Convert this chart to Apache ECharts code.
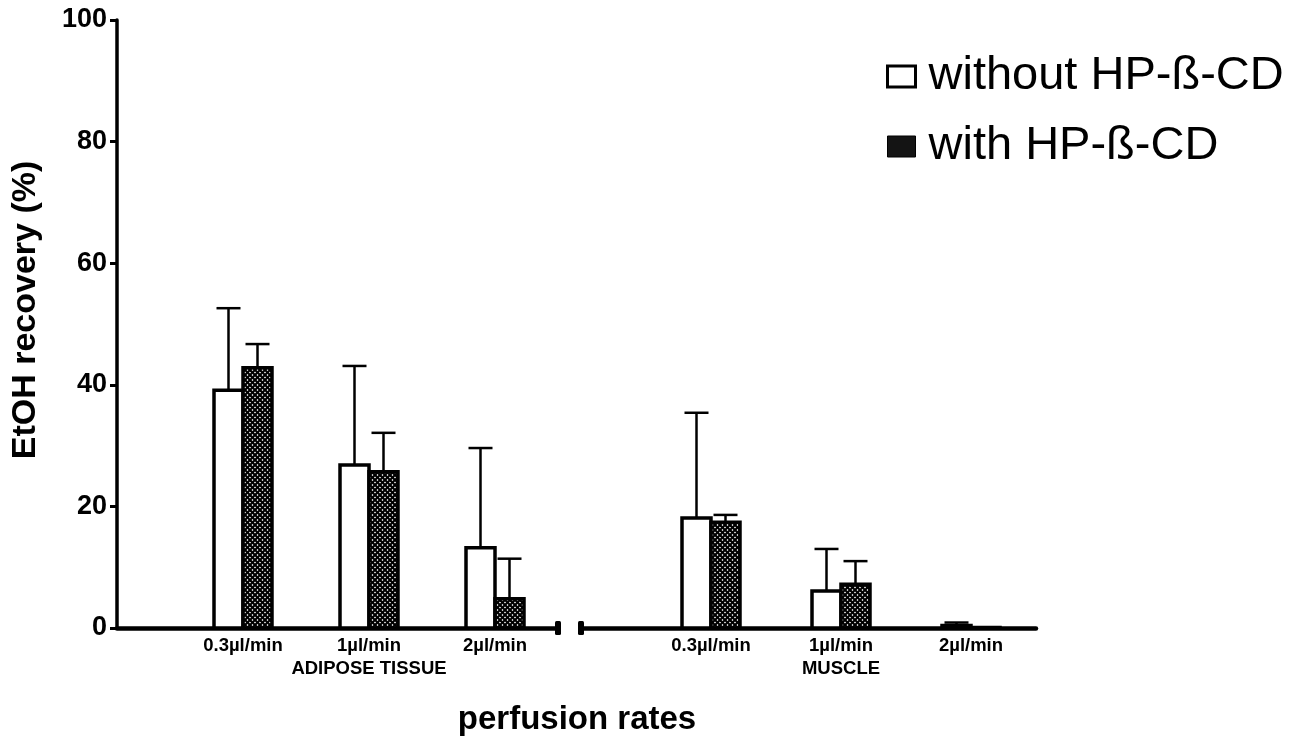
<!DOCTYPE html>
<html>
<head>
<meta charset="utf-8">
<script src="https://cdn.jsdelivr.net/npm/echarts@6/dist/echarts.min.js"></script>
<style>html,body{margin:0;padding:0;background:#fff}#c{width:1309px;height:741px}</style>
</head>
<body>
<div id="c"></div>
<script>
// ---- data ----
const rateLabels = ['0.3µl/min', '1µl/min', '2µl/min'];
const groupLabels = ['ADIPOSE TISSUE', 'MUSCLE'];
const seriesNames = ['without HP-ß-CD', 'with HP-ß-CD'];
const adiposeWithout = [39.1, 26.8, 13.2];
const adiposeWithoutSD = [13.5, 16.3, 16.4];
const adiposeWith = [42.8, 25.7, 4.8];
const adiposeWithSD = [3.9, 6.4, 6.6];
const muscleWithout = [18.1, 6.1, 0.4];
const muscleWithoutSD = [17.3, 6.9, 0.5];
const muscleWith = [17.4, 7.2, 0.1];
const muscleWithSD = [1.2, 3.8, 0];
const yTicks = [0, 20, 40, 60, 80, 100];
const yTitle = 'EtOH recovery (%)';
const xTitle = 'perfusion rates';

const FONT = '"Liberation Sans", Arial, sans-serif';

// cross-hatch pattern
function makeHatch() {
  const s = 10, c = document.createElement('canvas');
  c.width = s; c.height = s;
  const g = c.getContext('2d');
  g.fillStyle = '#fff'; g.fillRect(0, 0, s, s);
  g.strokeStyle = '#000'; g.lineWidth = 2.1;
  for (let k = -3; k <= 3; k++) {
    const o = k * 5;
    g.beginPath(); g.moveTo(-2, -2 + o); g.lineTo(s + 2, s + 2 + o); g.stroke();
    g.beginPath(); g.moveTo(-2, s + 2 + o); g.lineTo(s + 2, -2 + o); g.stroke();
  }
  return c;
}
const hatch = { image: makeHatch(), repeat: 'repeat' };

function toData(vals, sds) { return vals.map((v, i) => [i + 1, v, sds[i]]); }

function renderer(kind) {
  const fill = kind === 0 ? '#fff' : hatch;
  return function (params, api) {
    const x = api.value(0), v = api.value(1), sd = api.value(2);
    const base = api.coord([x, 0]);
    const top = api.coord([x, v]);
    const eTop = api.coord([x, v + sd]);
    const w = 29;
    const left = kind === 0 ? base[0] - w : base[0];
    const cx = left + w / 2;
    const children = [];
    if (sd > 0) {
      children.push({ type: 'line', shape: { x1: cx, y1: top[1], x2: cx, y2: eTop[1] }, style: { stroke: '#000', lineWidth: 2.5 } });
      children.push({ type: 'line', shape: { x1: cx - 12, y1: eTop[1], x2: cx + 12, y2: eTop[1] }, style: { stroke: '#000', lineWidth: 2.5 } });
    }
    children.push({ type: 'rect', shape: { x: left, y: top[1], width: w, height: base[1] - top[1] }, style: { fill: fill, stroke: '#000', lineWidth: 3.5 } });
    return { type: 'group', children: children };
  };
}

function xAxisFor(gridIndex, groupName, capSide) {
  return {
    type: 'value', gridIndex: gridIndex, min: 0, max: 3.5, interval: 1,
    splitLine: { show: false }, axisTick: { show: false },
    axisLine: { show: true, onZero: false, lineStyle: { color: '#000', width: 4.5, cap: 'round' },
      symbol: capSide === 'end' ? ['none', 'roundRect'] : ['roundRect', 'none'], symbolSize: [14, 6] },
    axisLabel: {
      margin: 8, fontFamily: FONT, color: '#000',
      formatter: function (v) {
        if (v === 1 || v === 3) return '{t|' + rateLabels[v - 1] + '}';
        if (v === 2) return '{t|' + rateLabels[1] + '}\n{g|' + groupName + '}';
        return '';
      },
      rich: {
        t: { fontSize: 18.5, fontWeight: 'bold', fontFamily: FONT, lineHeight: 19, color: '#000' },
        g: { fontSize: 18.5, fontWeight: 'bold', fontFamily: FONT, lineHeight: 28, color: '#000' }
      }
    }
  };
}

const chart = echarts.init(document.getElementById('c'), null, { renderer: 'canvas' });
chart.setOption({
  animation: false,
  backgroundColor: '#fff',
  grid: [
    { left: 117, right: 751, top: 20, bottom: 113, outerBoundsMode: 'none', containLabel: false },
    { left: 581, right: 273, top: 20, bottom: 113, outerBoundsMode: 'none', containLabel: false }
  ],
  xAxis: [xAxisFor(0, groupLabels[0], 'end'), xAxisFor(1, groupLabels[1], 'start')],
  yAxis: [
    {
      type: 'value', gridIndex: 0, min: 0, max: 100, interval: 20,
      splitLine: { show: false },
      axisLine: { show: true, lineStyle: { color: '#000', width: 3.5 } },
      axisTick: { show: true, length: 7, lineStyle: { color: '#000', width: 3 } },
      axisLabel: { margin: 10, fontSize: 27, fontWeight: 'bold', fontFamily: FONT, color: '#000',
        formatter: v => (yTicks.indexOf(v) >= 0 ? String(v) : '') }
    },
    { type: 'value', gridIndex: 1, min: 0, max: 100, interval: 20, show: false }
  ],
  legend: {
    orient: 'vertical', left: 881, top: 48, itemWidth: 28, itemHeight: 21, itemGap: 23,
    selectedMode: false,
    textStyle: { fontSize: 47, fontFamily: FONT, color: '#000', padding: [0, 0, 0, 8] },
    data: [
      { name: seriesNames[0], icon: 'rect', itemStyle: { color: '#fff', borderColor: '#000', borderWidth: 3 } },
      { name: seriesNames[1], icon: 'rect', itemStyle: { color: '#141414', borderColor: '#000', borderWidth: 1 } }
    ]
  },
  graphic: [
    { type: 'text', x: 577, y: 720, style: { text: xTitle, fontSize: 33, fontWeight: 'bold', fontFamily: FONT, fill: '#000', align: 'center', verticalAlign: 'middle' } },
    { type: 'text', x: 26, y: 310, rotation: Math.PI / 2, style: { text: yTitle, fontSize: 34, fontWeight: 'bold', fontFamily: FONT, fill: '#000', align: 'center', verticalAlign: 'middle' } }
  ],
  series: [
    { type: 'custom', name: seriesNames[0], xAxisIndex: 0, yAxisIndex: 0, encode: { x: 0, y: 1 }, renderItem: renderer(0), data: toData(adiposeWithout, adiposeWithoutSD), itemStyle: { color: '#fff' } },
    { type: 'custom', name: seriesNames[1], xAxisIndex: 0, yAxisIndex: 0, encode: { x: 0, y: 1 }, renderItem: renderer(1), data: toData(adiposeWith, adiposeWithSD), itemStyle: { color: '#141414' } },
    { type: 'custom', name: seriesNames[0], xAxisIndex: 1, yAxisIndex: 1, encode: { x: 0, y: 1 }, renderItem: renderer(0), data: toData(muscleWithout, muscleWithoutSD), itemStyle: { color: '#fff' } },
    { type: 'custom', name: seriesNames[1], xAxisIndex: 1, yAxisIndex: 1, encode: { x: 0, y: 1 }, renderItem: renderer(1), data: toData(muscleWith, muscleWithSD), itemStyle: { color: '#141414' } }
  ]
});
</script>
</body>
</html>
